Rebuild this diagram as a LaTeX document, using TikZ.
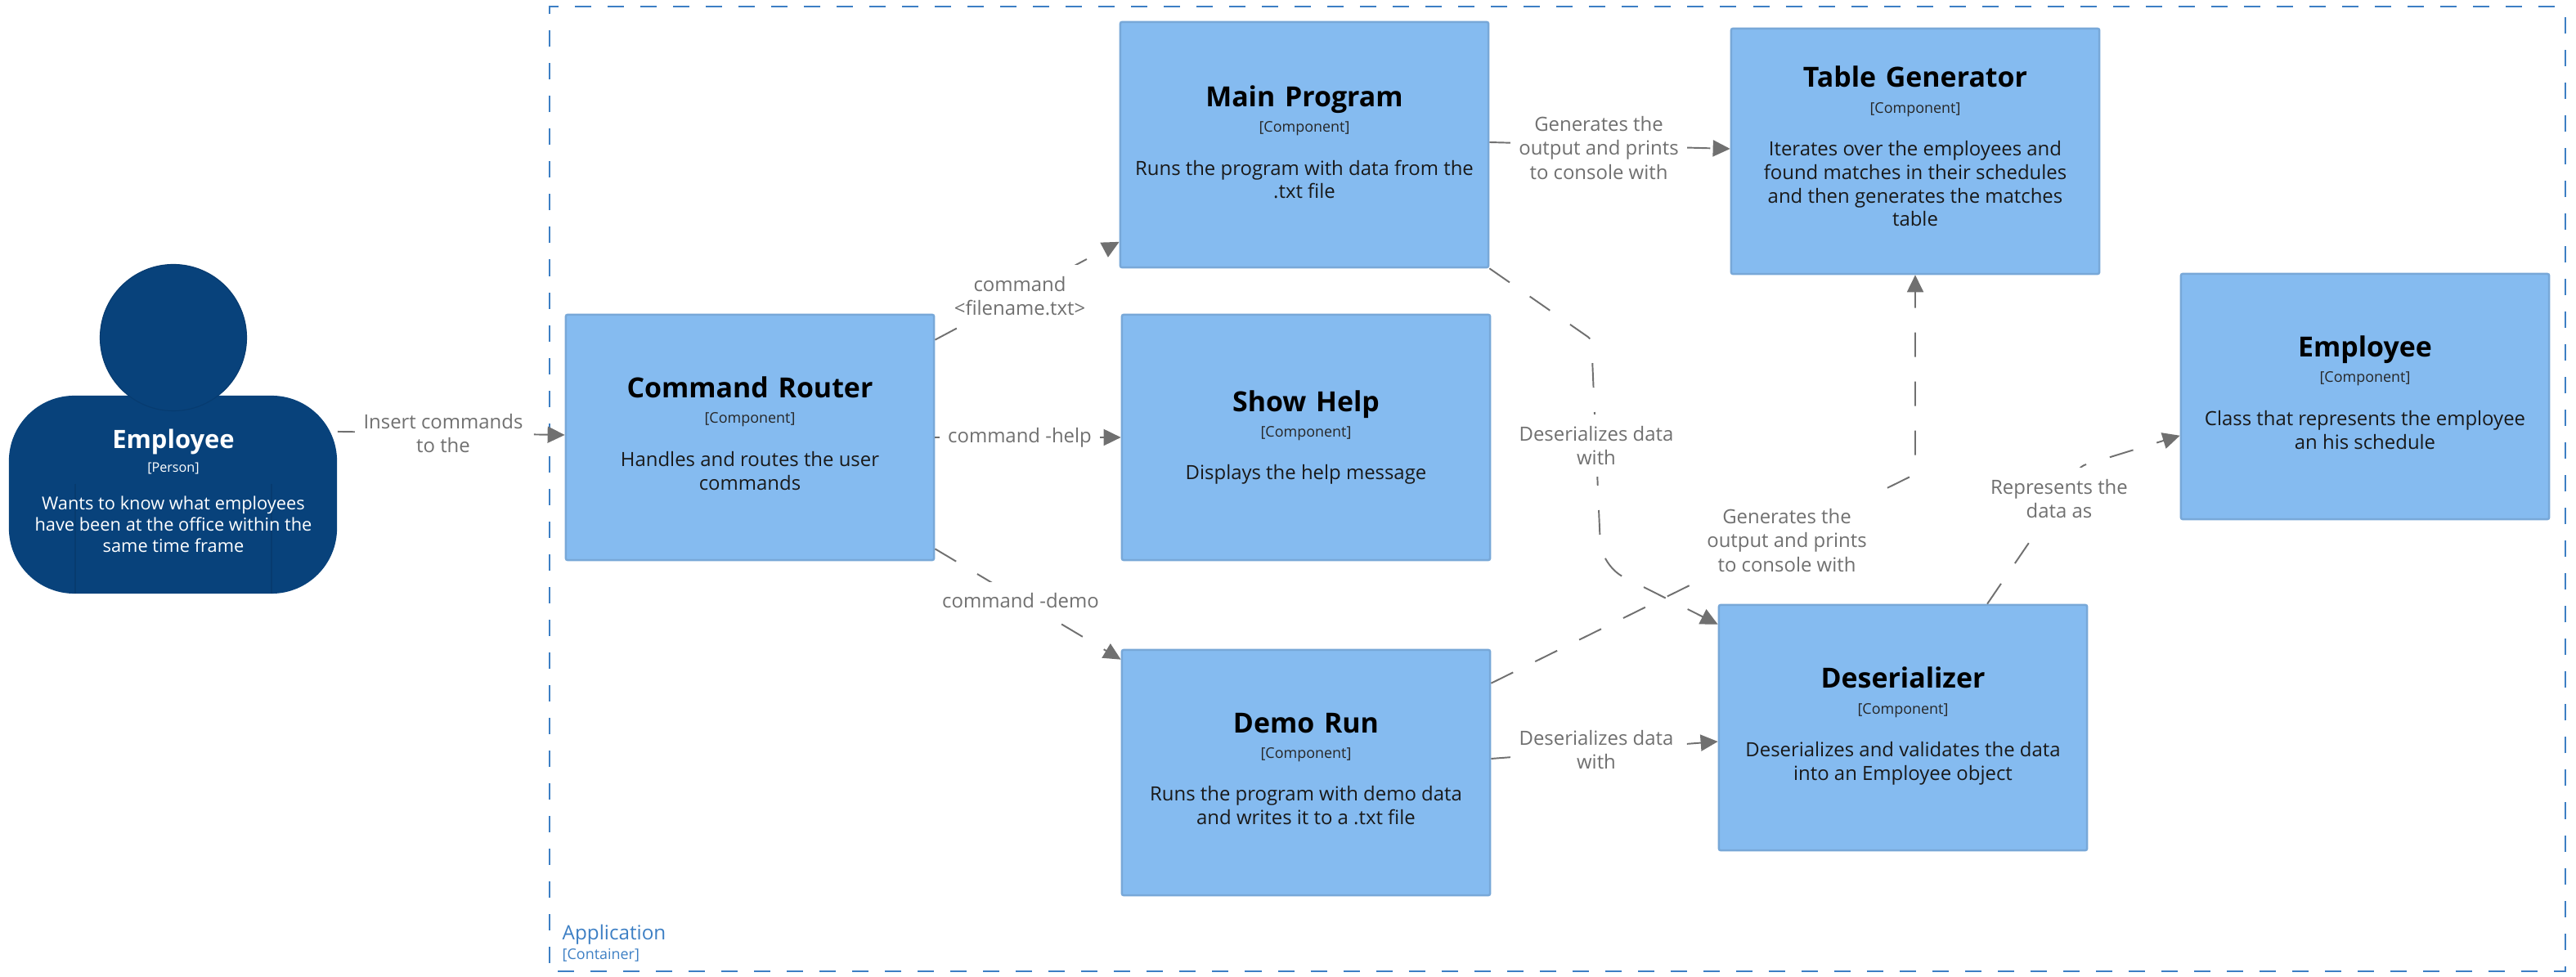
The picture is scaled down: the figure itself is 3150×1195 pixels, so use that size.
\documentclass[tikz,border=0pt]{standalone}
\usepackage{fontspec}
\setmainfont{Open Sans}
\usetikzlibrary{arrows.meta}
\definecolor{boxfill}{HTML}{85BBF0}
\definecolor{boxline}{HTML}{78A8D8}
\definecolor{persfill}{HTML}{08427B}
\definecolor{persline}{HTML}{073B6F}
\definecolor{edgecol}{HTML}{707070}
\definecolor{contcol}{HTML}{3D7FC4}
\newcommand{\cbox}[3][0pt]{\centering{\fontsize{9.64}{10}\selectfont\bfseries\color{black}#2\par}{\fontsize{5.1}{8.9}\selectfont\color{black!85}[Component]\par}\vspace{6.8pt}{\fontsize{6.8}{8.15}\selectfont\spaceskip=0.26em\relax\color{black!90}#3\par}\nointerlineskip\hbox{\vrule height #1 width 0pt}}
\tikzset{
  x=0.01cm,y=-0.01cm,
  comp/.style={draw=boxline,fill=boxfill,line width=0.7pt,rounded corners=0.6pt,minimum width=4.5cm,minimum height=3cm,text width=4.4cm,inner sep=0pt},
  rel/.style={draw=edgecol,line width=0.55pt,dash pattern=on 0.3cm off 0.3cm,-{Triangle[length=0.21cm,width=0.2cm,fill=edgecol]}},
  lab/.style={fill=white,text=edgecol,align=center,font=\fontsize{6.8}{8.3}\selectfont,inner xsep=3pt,inner ysep=4pt},
  cont/.style={draw=contcol,line width=0.7pt,dash pattern=on 0.2cm off 0.2cm,dash phase=0.3cm}
}
\begin{document}
\begin{tikzpicture}
\useasboundingbox (0,0) rectangle (3150,1195);
% container
\coordinate (cbl) at (672,1188);
\coordinate (ctl) at (672,8);
\coordinate (cbr) at (3137,1188);
\coordinate (ctr) at (3137,8);
\draw[cont] (cbl) -- (ctl) -- (ctr);
\draw[cont] (cbl) -- (cbr) -- (ctr);
\node[anchor=west,inner sep=0pt,text=contcol,font=\fontsize{6.9}{8}\selectfont] (contname) at (687,1143) {Application};
\node[anchor=west,inner sep=0pt,text=contcol,font=\fontsize{5.1}{6}\selectfont] (conttype) at (687,1168) {[Container]};
% person
\node[fill=persfill,rounded corners=0.8cm,minimum width=4.01cm,minimum height=2.42cm,inner sep=0pt] (emp) at (211.5,605) {};
\draw[persline,line width=0.3pt] (92,592) -- (92,726) (332,592) -- (332,726);
\node[circle,fill=persfill,draw=persline,line width=0.3pt,minimum size=1.79cm,inner sep=0pt] (head) at (212,413) {};
\node[text=white,text width=3.9cm,inner sep=0pt] (emptxt) at (212,600.5) {\centering{\fontsize{8.8}{10}\selectfont\bfseries Employee\par}{\fontsize{4.6}{8.2}\selectfont [Person]\par}\vspace{5.6pt}{\fontsize{6.2}{7.4}\selectfont\spaceskip=0.26em\relax Wants to know what employees\\have been at the office within the\\same time frame\par}};
% components
\node[comp] (router) at (917,535) {\cbox[2.8pt]{Command Router}{Handles and routes the user\\commands}};
\node[comp] (main) at (1595,177) {\cbox[1.7pt]{Main Program}{Runs the program with data from the\\.txt file}};
\node[comp] (help) at (1597,535) {\cbox{Show Help}{Displays the help message}};
\node[comp] (demo) at (1597,945) {\cbox[2.6pt]{Demo Run}{Runs the program with demo data\\and writes it to a .txt file}};
\node[comp] (table) at (2342,185) {\cbox[3.4pt]{Table Generator}{Iterates over the employees and\\found matches in their schedules\\and then generates the matches\\table}};
\node[comp] (ser) at (2327,890) {\cbox[1.1pt]{Deserializer}{Deserializes and validates the data\\into an Employee object}};
\node[comp] (cls) at (2892,485) {\cbox[2.8pt]{Employee}{Class that represents the employee\\an his schedule}};
% connectors
\draw[rel] ([yshift=0.77cm]emp.east) -- ([yshift=0.03cm]router.west);
\draw[rel] ([yshift=-0.32cm]router.north east) -- ([yshift=-2.7cm]main.north west);
\draw[rel] (router.east) -- (help.west);
\draw[rel] ([yshift=0.15cm]router.south east) -- ([yshift=-0.13cm]demo.north west);
\draw[rel] ([yshift=0.03cm]main.east) -- ([yshift=0.03cm]table.west);
\coordinate (w1) at (1946,415);
\coordinate (w2) at (1958,692);
\draw[rel] (main.south east) [rounded corners=0.05cm] -- (w1) [rounded corners=0.3cm] -- (w2) -- ([yshift=-0.25cm]ser.north west);
\coordinate (w3) at (2342,580);
\draw[rel,rounded corners=0.05cm] ([yshift=-0.42cm]demo.north east) -- (w3) -- (table.south);
\coordinate (w4) at (2545,570);
\draw[rel,rounded corners=0.05cm] ([xshift=1.03cm]ser.north) -- (w4) -- ([yshift=-1.99cm]cls.north west);
\draw[rel] ([yshift=0.17cm]demo.east) -- ([yshift=-0.17cm]ser.west);
% labels
\node[lab] (l1) at (542,530) {Insert commands\\to the};
\node[lab] (l2) at (1247,362) {command\\<filename.txt>};
\node[lab] (l3) at (1247,535) {command -help};
\node[lab] (l4) at (1248,735) {command -demo};
\node[lab] (l5) at (1955,181) {Generates the\\output and prints\\to console with};
\node[lab] (l6) at (1952,545) {Deserializes data\\with};
\node[lab] (l7) at (2185,661) {Generates the\\output and prints\\to console with};
\node[lab] (l8) at (2518,610) {Represents the\\data as};
\node[lab] (l9) at (1952,917) {Deserializes data\\with};
\end{tikzpicture}
\end{document}
